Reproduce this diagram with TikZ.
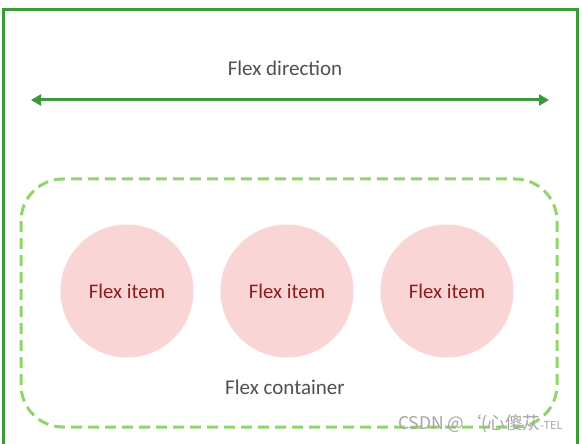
\documentclass[tikz,border=0pt]{standalone}
\usepackage{fontspec}
\setmainfont{Carlito}
\newfontfamily\cjkfont{Noto Sans CJK SC}
\usetikzlibrary{arrows.meta}
\definecolor{dgreen}{HTML}{3A9A3A}
\definecolor{lgreen}{HTML}{92D36E}
\definecolor{pinkfill}{HTML}{F9D5D5}
\definecolor{itemtext}{HTML}{8E1B1B}
\definecolor{labelgray}{HTML}{505050}
\tikzset{
  outerframe/.style={draw=dgreen, line width=3pt},
  dirarrow/.style={draw=dgreen, line width=3pt, {Triangle[length=10pt,width=11pt]}-{Triangle[length=10pt,width=11pt]}},
  container/.style={draw=lgreen, line width=3pt, dash pattern=on 11pt off 6pt, rounded corners=42pt},
  item/.style={circle, fill=pinkfill, minimum size=133pt, inner sep=0pt, text=itemtext, font=\fontsize{20.7}{22}\selectfont},
  label/.style={text=labelgray, font=\fontsize{21}{23}\selectfont},
  wmark/.style={text=gray!70, font=\fontsize{17.5}{19}\selectfont\cjkfont, anchor=west, inner sep=0pt}
}
\begin{document}
\begin{tikzpicture}[x=1pt,y=-1pt]
\useasboundingbox (0,0) rectangle (582,444);
\fill[white] (0,0) rectangle (582,444);
\draw[outerframe] (3,446) -- (3,10) -- (577,10) -- (577,446);
\coordinate (aL) at (31,100);
\coordinate (aR) at (549,100);
\draw[dirarrow] (aL) -- (aR);
\node[label] (dir) at (285,68) {Flex direction};
\draw[container] (21,179) rectangle (557,427);
\node[item] (i1) at (127,291) {Flex item};
\node[item] (i2) at (287,291) {Flex item};
\node[item] (i3) at (447,291) {Flex item};
\node[label] (cont) at (285,387) {Flex container};
\node[wmark] (wm) at (398,424) {CSDN @‘(心傻苁{\fontsize{11}{12}\selectfont -TEL}};
\end{tikzpicture}
\end{document}
